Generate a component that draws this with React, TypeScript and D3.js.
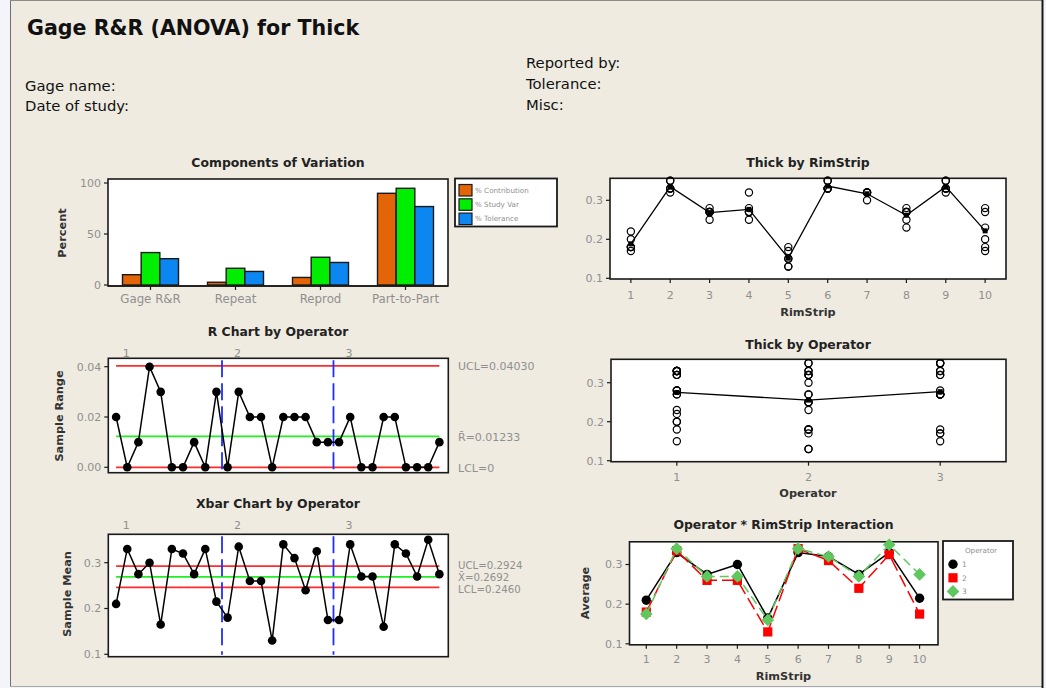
import React from "react";
import * as d3 from "d3";

const FONT = "'DejaVu Sans', Verdana, sans-serif";
const GREY = "#8f8f8f";
const DARK = "#1a1a1a";

// ---------- Components of Variation ----------
const components = ["Gage R&R", "Repeat", "Reprod", "Part-to-Part"];
const pctContribution = [10.1, 2.7, 7.4, 89.9];
const pctStudyVar = [31.8, 16.4, 27.2, 94.8];
const pctTolerance = [25.8, 13.3, 22.1, 76.9];
const compSeries = ["% Contribution", "% Study Var", "% Tolerance"];
const compColors = ["#E46408", "#00EE00", "#0C86F0"];
const compTicks = [0, 50, 100];

// ---------- Measurements (2 trials, 3 operators, 10 rim strips) ----------
const rimStrips = [1, 2, 3, 4, 5, 6, 7, 8, 9, 10];
const operators = [1, 2, 3];
const op1Trial1 = [0.2, 0.33, 0.27, 0.28, 0.15, 0.33, 0.32, 0.27, 0.33, 0.2];
const op1Trial2 = [0.22, 0.33, 0.28, 0.32, 0.18, 0.33, 0.32, 0.28, 0.33, 0.23];
const op2Trial1 = [0.18, 0.32, 0.25, 0.25, 0.13, 0.33, 0.3, 0.23, 0.32, 0.17];
const op2Trial2 = [0.18, 0.35, 0.27, 0.27, 0.13, 0.35, 0.32, 0.25, 0.33, 0.18];
const op3Trial1 = [0.17, 0.33, 0.27, 0.27, 0.15, 0.33, 0.32, 0.27, 0.35, 0.27];
const op3Trial2 = [0.18, 0.35, 0.27, 0.27, 0.17, 0.35, 0.32, 0.27, 0.35, 0.28];

// control limits
const rUCL = 0.0403;
const rBar = 0.01233;
const rLCL = 0;
const xUCL = 0.2924;
const xBarBar = 0.2692;
const xLCL = 0.246;
const rTicks = [0, 0.02, 0.04];
const meanTicks = [0.1, 0.2, 0.3];

const opColors = ["#000000", "#FF0000", "#5EC85E"];

const trials = [
  [op1Trial1, op1Trial2],
  [op2Trial1, op2Trial2],
  [op3Trial1, op3Trial2],
];

type M = { op: number; part: number; v: number };
const measurements: M[] = [];
trials.forEach((tr, oi) =>
  tr.forEach((arr) => arr.forEach((v, pi) => measurements.push({ op: operators[oi], part: rimStrips[pi], v })))
);

const subgroups = trials.flatMap((tr, oi) =>
  rimStrips.map((p, pi) => {
    const vals = tr.map((a) => a[pi]);
    return {
      op: operators[oi],
      part: p,
      mean: d3.mean(vals) as number,
      range: (d3.max(vals) as number) - (d3.min(vals) as number),
    };
  })
);

const partMeans = rimStrips.map((p) => ({ p, m: d3.mean(measurements.filter((d) => d.part === p), (d) => d.v) as number }));
const opMeans = operators.map((o) => ({ o, m: d3.mean(measurements.filter((d) => d.op === o), (d) => d.v) as number }));

const TICK_FS = 11;

function Frame({ x0, y0, x1, y1 }: any) {
  return <rect x={x0} y={y0} width={x1 - x0} height={y1 - y0} fill="#fff" stroke={DARK} strokeWidth={1.6} />;
}

function YTicks({ scale, ticks, x, fmt }: any) {
  return (
    <g>
      {ticks.map((t: number) => (
        <g key={t}>
          <line x1={x - 4} x2={x} y1={scale(t)} y2={scale(t)} stroke={DARK} strokeWidth={1.2} />
          <text x={x - 7} y={scale(t)} dy="0.36em" textAnchor="end" fontSize={TICK_FS} fill={GREY}>
            {fmt(t)}
          </text>
        </g>
      ))}
    </g>
  );
}

function XTicks({ positions, labels, y, labelY, fs }: any) {
  return (
    <g>
      {positions.map((px: number, i: number) => (
        <g key={i}>
          <line x1={px} x2={px} y1={y} y2={y + 4} stroke={DARK} strokeWidth={1.2} />
          <text x={px} y={labelY} dy="0.36em" textAnchor="middle" fontSize={fs || TICK_FS} fill={GREY}>
            {labels[i]}
          </text>
        </g>
      ))}
    </g>
  );
}

function Title({ x, y, children }: any) {
  return (
    <text x={x} y={y} dy="0.36em" textAnchor="middle" fontSize={12.4} fontWeight="bold" fill="#222">
      {children}
    </text>
  );
}

function AxisLabel({ x, y, rotate, children }: any) {
  return (
    <text
      x={x}
      y={y}
      dy="0.36em"
      textAnchor="middle"
      fontSize={11.3}
      fontWeight="bold"
      fill="#333"
      transform={rotate ? `rotate(-90 ${x} ${y})` : undefined}
    >
      {children}
    </text>
  );
}

function ComponentsChart() {
  const x0 = 108, x1 = 448, y0 = 179, y1 = 286;
  const y = d3.scaleLinear().domain([0, 100]).range([285, 183]);
  const xb = d3.scaleBand<string>().domain(components).range([x0, x1]);
  const inner = d3.scaleBand<string>().domain(compSeries).range([0, 56]);
  const series = [pctContribution, pctStudyVar, pctTolerance];
  return (
    <g>
      <Title x={278} y={163}>Components of Variation</Title>
      <Frame x0={x0} y0={y0} x1={x1} y1={y1} />
      {components.map((c, ci) => {
        const gx = (xb(c) as number) + xb.bandwidth() / 2 - 28;
        return series.map((s, si) => (
          <rect
            key={c + si}
            x={gx + (inner(compSeries[si]) as number)}
            y={y(s[ci])}
            width={inner.bandwidth()}
            height={y(0) - y(s[ci])}
            fill={compColors[si]}
            stroke={DARK}
            strokeWidth={1.4}
          />
        ));
      })}
      <line x1={x0} x2={x1} y1={y1} y2={y1} stroke={DARK} strokeWidth={1.6} />
      <YTicks scale={y} ticks={compTicks} x={x0} fmt={(t: number) => String(t)} />
      <XTicks
        positions={components.map((c) => (xb(c) as number) + xb.bandwidth() / 2)}
        labels={components}
        y={y1}
        labelY={299}
        fs={11.8}
      />
      <AxisLabel x={62} y={233} rotate>
        Percent
      </AxisLabel>
      <rect x={455} y={178.5} width={102} height={48} fill="#fff" stroke={DARK} strokeWidth={1.8} />
      {compSeries.map((s, i) => (
        <g key={s}>
          <rect x={459} y={184.5 + i * 14.3} width={13} height={11.5} fill={compColors[i]} stroke={DARK} strokeWidth={1.2} />
          <text x={475} y={190.2 + i * 14.3} dy="0.36em" fontSize={7.2} fill={GREY}>
            {s}
          </text>
        </g>
      ))}
    </g>
  );
}

function ControlChart({ kind }: { kind: "R" | "X" }) {
  const isR = kind === "R";
  const x0 = 108.3, x1 = 448.3;
  const y0 = isR ? 358.3 : 534.3;
  const y1 = isR ? 472.7 : 656.7;
  const x = d3.scaleLinear().domain([0.3, 30.8]).range([x0, x1]);
  const y = isR
    ? d3.scaleLinear().domain([0, 0.04]).range([467.3, 366.7])
    : d3.scaleLinear().domain([0.1, 0.3]).range([654.3, 562.7]);
  const vals = subgroups.map((s) => (isR ? s.range : s.mean));
  const line = d3
    .line<number>()
    .x((_, i) => x(i + 1))
    .y((v) => y(v));
  const limits = isR
    ? [
        { v: rUCL, c: "#FF2A2A" },
        { v: rBar, c: "#22EE22" },
        { v: rLCL, c: "#FF2A2A" },
      ]
    : [
        { v: xUCL, c: "#FF2A2A" },
        { v: xBarBar, c: "#22EE22" },
        { v: xLCL, c: "#FF2A2A" },
      ];
  const labels = isR
    ? [`UCL=${rUCL.toFixed(5)}`, `R\u0304=${rBar.toFixed(5)}`, `LCL=${rLCL}`]
    : [`UCL=${xUCL.toFixed(4)}`, `X\u0304=${xBarBar.toFixed(4)}`, `LCL=${xLCL.toFixed(4)}`];
  // stacked label offsets for the crowded Xbar limits
  const labelShift = isR ? [0, 0, 0] : [-1.2, 0, 1.2];
  const first = 1, last = vals.length;
  const opLabelY = isR ? 353 : 525;
  return (
    <g>
      <Title x={278} y={isR ? 331.5 : 503.5}>{isR ? "R Chart by Operator" : "Xbar Chart by Operator"}</Title>
      {operators.map((o, i) => (
        <text key={o} x={x(i * 10 + 1.9)} y={opLabelY} dy="0.36em" textAnchor="middle" fontSize={TICK_FS} fill={GREY}>
          {o}
        </text>
      ))}
      <Frame x0={x0} y0={y0} x1={x1} y1={y1} />
      {limits.map((l, i) => (
        <line key={i} x1={x(first)} x2={x(last)} y1={y(l.v)} y2={y(l.v)} stroke={l.c} strokeWidth={1.8} />
      ))}
      {[10.5, 20.5].map((b) => (
        <line key={b} x1={x(b)} x2={x(b)} y1={y0 + 2} y2={y1 - 2} stroke="#1F2FFF" strokeWidth={1.8} strokeDasharray="17,6" />
      ))}
      <path d={line(vals) as string} fill="none" stroke="#000" strokeWidth={1.5} />
      {vals.map((v, i) => (
        <circle key={i} cx={x(i + 1)} cy={y(v)} r={4.3} fill="#000" />
      ))}
      <YTicks scale={y} ticks={isR ? rTicks : meanTicks} x={x0} fmt={(t: number) => (isR ? t.toFixed(2) : t.toFixed(1))} />
      {limits.map((l, i) => (
        <text key={i} x={458} y={y(l.v) + 0.5 + labelShift[i]} dy="0.36em" fontSize={isR ? 11 : 10.2} fill={GREY}>
          {labels[i]}
        </text>
      ))}
      <AxisLabel x={isR ? 58.5 : 66.5} y={isR ? 416 : 594} rotate>
        {isR ? "Sample Range" : "Sample Mean"}
      </AxisLabel>
    </g>
  );
}

function ThickByRimStrip() {
  const x0 = 610, x1 = 1006, y0 = 178.3, y1 = 279;
  const x = d3.scaleLinear().domain([0.47, 10.53]).range([x0, x1]);
  const y = d3.scaleLinear().domain([0.1, 0.3]).range([278.3, 200.3]);
  const line = d3
    .line<{ p: number; m: number }>()
    .x((d) => x(d.p))
    .y((d) => y(d.m));
  return (
    <g>
      <Title x={808} y={163}>Thick by RimStrip</Title>
      <Frame x0={x0} y0={y0} x1={x1} y1={y1} />
      {measurements.map((d, i) => (
        <circle key={i} cx={x(d.part)} cy={y(d.v)} r={3.6} fill="none" stroke="#000" strokeWidth={1.2} />
      ))}
      <path d={line(partMeans) as string} fill="none" stroke="#000" strokeWidth={1.3} />
      {partMeans.map((d) => (
        <rect key={d.p} x={x(d.p) - 2.5} y={y(d.m) - 2.5} width={5} height={5} fill="#000" />
      ))}
      <YTicks scale={y} ticks={meanTicks} x={x0} fmt={(t: number) => t.toFixed(1)} />
      <XTicks positions={rimStrips.map((p) => x(p))} labels={rimStrips} y={y1} labelY={295} />
      <AxisLabel x={808} y={311.5}>
        RimStrip
      </AxisLabel>
    </g>
  );
}

function ThickByOperator() {
  const x0 = 611, x1 = 1006, y0 = 359.3, y1 = 461.7;
  const x = d3.scaleLinear().domain([0.5, 3.5]).range([x0, x1]);
  const y = d3.scaleLinear().domain([0.1, 0.3]).range([460.7, 382.7]);
  const line = d3
    .line<{ o: number; m: number }>()
    .x((d) => x(d.o))
    .y((d) => y(d.m));
  return (
    <g>
      <Title x={808} y={345}>Thick by Operator</Title>
      <Frame x0={x0} y0={y0} x1={x1} y1={y1} />
      {measurements.map((d, i) => (
        <circle key={i} cx={x(d.op)} cy={y(d.v)} r={3.6} fill="none" stroke="#000" strokeWidth={1.2} />
      ))}
      <path d={line(opMeans) as string} fill="none" stroke="#000" strokeWidth={1.3} />
      {opMeans.map((d) => (
        <rect key={d.o} x={x(d.o) - 2.5} y={y(d.m) - 2.5} width={5} height={5} fill="#000" />
      ))}
      <YTicks scale={y} ticks={meanTicks} x={x0} fmt={(t: number) => t.toFixed(1)} />
      <XTicks positions={operators.map((o) => x(o))} labels={operators} y={y1} labelY={477} />
      <AxisLabel x={808} y={493}>
        Operator
      </AxisLabel>
    </g>
  );
}

function Marker({ op, cx, cy }: any) {
  if (op === 1) return <circle cx={cx} cy={cy} r={4.7} fill={opColors[0]} />;
  if (op === 2) return <rect x={cx - 4.6} y={cy - 4.6} width={9.2} height={9.2} fill={opColors[1]} />;
  const s = 6.3;
  return <path d={`M${cx},${cy - s}L${cx + s},${cy}L${cx},${cy + s}L${cx - s},${cy}Z`} fill={opColors[2]} />;
}

function Interaction() {
  const x0 = 629.5, x1 = 938, y0 = 541.8, y1 = 644.8;
  const x = d3.scaleLinear().domain([0.447, 10.606]).range([x0, x1]);
  const y = d3.scaleLinear().domain([0.1, 0.3]).range([643.8, 564.5]);
  const dashes = [undefined, "13,5", "9,5"];
  return (
    <g>
      <Title x={783.5} y={525}>Operator * RimStrip Interaction</Title>
      <Frame x0={x0} y0={y0} x1={x1} y1={y1} />
      {operators.map((o, oi) => {
        const pts = subgroups.filter((s) => s.op === o);
        const line = d3
          .line<any>()
          .x((d) => x(d.part))
          .y((d) => y(d.mean));
        return (
          <g key={o}>
            <path d={line(pts) as string} fill="none" stroke={opColors[oi]} strokeWidth={1.5} strokeDasharray={dashes[oi]} />
            {pts.map((d) => (
              <Marker key={d.part} op={o} cx={x(d.part)} cy={y(d.mean)} />
            ))}
          </g>
        );
      })}
      <YTicks scale={y} ticks={meanTicks} x={x0} fmt={(t: number) => t.toFixed(1)} />
      <XTicks positions={rimStrips.map((p) => x(p))} labels={rimStrips} y={y1} labelY={659} />
      <AxisLabel x={585} y={593} rotate>
        Average
      </AxisLabel>
      <AxisLabel x={783.5} y={675.5}>
        RimStrip
      </AxisLabel>
      <rect x={943} y={541} width={70} height={58.5} fill="#fff" stroke={DARK} strokeWidth={1.8} />
      <text x={981} y={550} dy="0.36em" textAnchor="middle" fontSize={7.2} fill={GREY}>
        Operator
      </text>
      {operators.map((o, i) => (
        <g key={o}>
          <Marker op={o} cx={953} cy={564.2 + i * 13.6} />
          <text x={962} y={564.2 + i * 13.6} dy="0.36em" fontSize={7.5} fill={GREY}>
            {o}
          </text>
        </g>
      ))}
    </g>
  );
}

export default function App() {
  return (
    <svg
      width={1046}
      height={688}
      style={{ position: "absolute", left: 0, top: 0, display: "block" }}
      fontFamily={FONT}
    >
      <rect x={0} y={0} width={1046} height={688} fill="#F3F5FB" />
      <rect x={10} y={0} width={1033} height={687} fill="#EFEBE1" />
      <line x1={10.5} x2={10.5} y1={0} y2={687} stroke="#6f6f6f" strokeWidth={1} />
      <line x1={10} x2={1043} y1={0.5} y2={0.5} stroke="#8a8a8a" strokeWidth={1} />
      <line x1={10} x2={1043} y1={686.5} y2={686.5} stroke="#a8a8a8" strokeWidth={1} />
      <line x1={1042.5} x2={1042.5} y1={0} y2={688} stroke="#1a1a1a" strokeWidth={2} />

      <text x={27} y={35} fontSize={20.6} fontWeight="bold" fill="#111">
        Gage R&amp;R (ANOVA) for Thick
      </text>
      <g fontSize={14.8} fill="#111">
        <text x={25} y={86} dy="0.36em">Gage name:</text>
        <text x={25} y={106} dy="0.36em">Date of study:</text>
        <text x={526} y={63} dy="0.36em">Reported by:</text>
        <text x={526} y={84} dy="0.36em">Tolerance:</text>
        <text x={526} y={105} dy="0.36em">Misc:</text>
      </g>

      <ComponentsChart />
      <ControlChart kind="R" />
      <ControlChart kind="X" />
      <ThickByRimStrip />
      <ThickByOperator />
      <Interaction />
    </svg>
  );
}
